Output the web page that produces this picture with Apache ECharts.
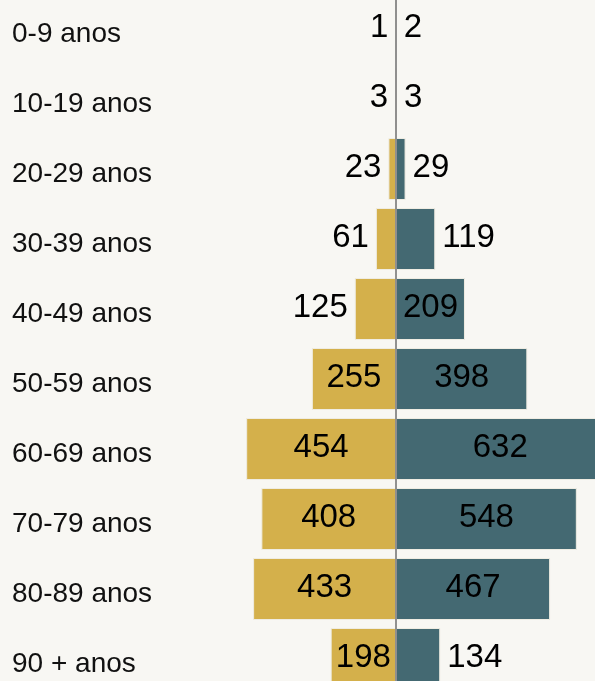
<!DOCTYPE html>
<html><head><meta charset="utf-8">
<script src="https://cdn.jsdelivr.net/npm/echarts@6/dist/echarts.min.js"></script>
<style>html,body{margin:0;padding:0;background:#f8f7f3;overflow:hidden}#c{width:595px;height:681px}</style>
</head><body><div id="c"></div>
<script>
const categories = ['0-9 anos','10-19 anos','20-29 anos','30-39 anos','40-49 anos','50-59 anos','60-69 anos','70-79 anos','80-89 anos','90 + anos'];
const leftValues = [1,3,23,61,125,255,454,408,433,198];
const rightValues = [2,3,29,119,209,398,632,548,467,134];
const insideThreshold = 150;

const chart = echarts.init(document.getElementById('c'), null, {renderer:'canvas'});
const fontFamily = 'Arial, "Liberation Sans", sans-serif';
const valueLabel = {show:true, color:'#000', fontSize:33, fontFamily, offset:[0,-1], distance:7};

const leftData = leftValues.map(v => ({
  value: -v,
  label: {position: v > insideThreshold ? 'inside' : 'left'}
}));
const rightData = rightValues.map(v => ({
  value: v,
  label: {position: v > insideThreshold ? 'inside' : 'right'}
}));

chart.setOption({
  backgroundColor:'#f8f7f3',
  animation:false,
  grid:[
    {left:0, top:-6, width:792, height:700, containLabel:false, outerBoundsMode:'none'},
    {left:0, top:-1, width:792, height:700, containLabel:false, outerBoundsMode:'none'}
  ],
  xAxis:[
    {type:'value', min:-1200, max:1200, show:false, gridIndex:0},
    {type:'value', min:-1200, max:1200, show:false, gridIndex:1}
  ],
  yAxis:[
    {type:'category', data:categories, inverse:true, gridIndex:0,
     axisLine:{show:false}, axisTick:{show:false}, splitLine:{show:false}, axisLabel:{show:false}},
    {type:'category', data:categories, inverse:true, gridIndex:1,
     axisLine:{show:false}, axisTick:{show:false}, splitLine:{show:false},
     axisLabel:{inside:true, align:'left', margin:12, fontSize:28, fontFamily, color:'#111'}}
  ],
  series:[
    {type:'bar', data:leftData, barWidth:62, barGap:'-100%', clip:false,
     itemStyle:{color:'#d4b04b', borderColor:'#efece2', borderWidth:1},
     label:Object.assign({}, valueLabel, {formatter:p => Math.abs(p.value)}),
     markLine:{silent:true, symbol:'none', label:{show:false},
       lineStyle:{color:'#858585', width:2, type:'solid', opacity:0.9},
       data:[{xAxis:0}], z:10}
    },
    {type:'bar', data:rightData, barWidth:62, clip:false,
     itemStyle:{color:'#446972', borderColor:'#efece2', borderWidth:1},
     label:Object.assign({}, valueLabel, {formatter:p => p.value})
    }
  ]
});
</script></body></html>
